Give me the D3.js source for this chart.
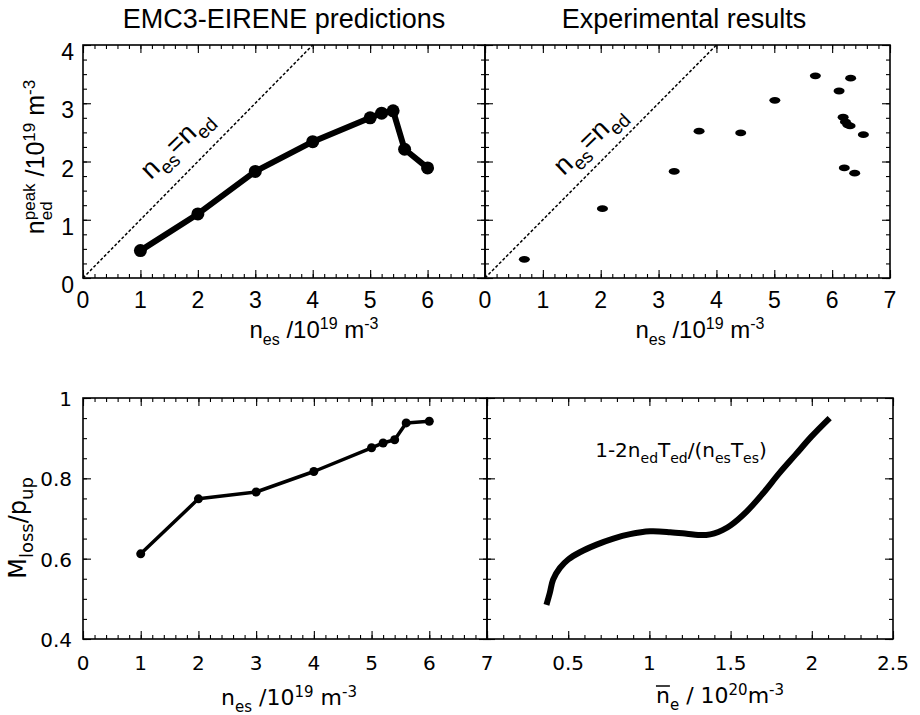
<!DOCTYPE html>
<html>
<head>
<meta charset="utf-8">
<script src="https://cdn.jsdelivr.net/npm/d3@7/dist/d3.min.js"></script>
<style>
  html, body { margin: 0; padding: 0; background: #fff; }
  svg { display: block; }
</style>
</head>
<body>
<svg id="chart" width="920" height="715"></svg>
<script>
// ---------------- DATA ----------------
// Top-left: EMC3-EIRENE predictions
const predNes = [1, 2, 3, 4, 5, 5.2, 5.4, 5.6, 6];
const predNedPeak = [0.47, 1.10, 1.83, 2.34, 2.75, 2.83, 2.87, 2.21, 1.89];
// Top-right: Experimental results
const expNes = [0.68, 2.03, 3.27, 3.70, 4.42, 5.01, 5.71, 6.32, 6.12, 6.19, 6.23, 6.27, 6.31, 6.54, 6.21, 6.39];
const expNedPeak = [0.32, 1.19, 1.83, 2.52, 2.49, 3.05, 3.47, 3.43, 3.21, 2.76, 2.68, 2.63, 2.61, 2.46, 1.89, 1.80];
// Bottom-left: momentum loss
const lossNes = [1, 2, 3, 4, 5, 5.2, 5.4, 5.6, 6];
const lossFrac = [0.612, 0.749, 0.766, 0.817, 0.876, 0.888, 0.896, 0.938, 0.942];
// Bottom-right: 1-2nedTed/(nesTes) vs line-averaged density
const nebar = [0.366, 0.387, 0.407, 0.449, 0.50, 0.572, 0.675, 0.778, 0.881, 1.004, 1.128, 1.230, 1.300, 1.350, 1.400, 1.450, 1.500, 1.600, 1.700, 1.800, 1.900, 2.000, 2.110];
const pressLoss = [0.485, 0.515, 0.548, 0.577, 0.598, 0.616, 0.635, 0.650, 0.661, 0.668, 0.666, 0.662, 0.659, 0.659, 0.663, 0.671, 0.683, 0.718, 0.763, 0.813, 0.859, 0.905, 0.950];
// Identity line n_es = n_ed
const identityX = [0, 4];
// Tick labels
const topXTicksLeft = [0, 1, 2, 3, 4, 5, 6];
const topXTicksRight = [0, 1, 2, 3, 4, 5, 6, 7];
const topYTicks = [0, 1, 2, 3, 4];
const botXTicksLeft = [0, 1, 2, 3, 4, 5, 6, 7];
const botXTicksRight = [0.5, 1, 1.5, 2, 2.5];
const botYTicks = [0.4, 0.6, 0.8, 1];
const titles = ["EMC3-EIRENE predictions", "Experimental results"];

// ---------------- LAYOUT ----------------
const svg = d3.select("#chart");
const TOPFONT = "'Liberation Sans', Arial, Helvetica, sans-serif";
const BOTFONT = "'DejaVu Sans', Verdana, sans-serif";

const P = {
  tl: {x0: 83, x1: 485, y0: 278, y1: 45},
  tr: {x0: 485, x1: 890, y0: 278, y1: 45},
  bl: {x0: 83, x1: 487, y0: 639, y1: 398},
  br: {x0: 487, x1: 893, y0: 639, y1: 398}
};

const sx = {
  tl: d3.scaleLinear().domain([0, 7]).range([P.tl.x0, P.tl.x1]),
  tr: d3.scaleLinear().domain([0, 7]).range([P.tr.x0, P.tr.x1]),
  bl: d3.scaleLinear().domain([0, 7]).range([P.bl.x0, P.bl.x1]),
  br: d3.scaleLinear().domain([0, 2.5]).range([P.br.x0, P.br.x1])
};
const sy = {
  tl: d3.scaleLinear().domain([0, 4]).range([P.tl.y0, P.tl.y1]),
  tr: d3.scaleLinear().domain([0, 4]).range([P.tr.y0, P.tr.y1]),
  bl: d3.scaleLinear().domain([0.4, 1]).range([P.bl.y0, P.bl.y1]),
  br: d3.scaleLinear().domain([0.4, 1]).range([P.br.y0, P.br.y1])
};

// ---------------- HELPERS ----------------
function inwardTicks(key, xMajor, xMinor, yMajor, yMinor) {
  const p = P[key], x = sx[key], y = sy[key];
  const g = svg.append("g").attr("class", "ticks-" + key);
  const mk = (axisFn, scale, vals, len, tr) => {
    const a = axisFn(scale).tickValues(vals).tickSizeInner(-len).tickSizeOuter(0).tickFormat("");
    const gg = g.append("g").attr("transform", tr).call(a);
    gg.select(".domain").remove();
    gg.selectAll("line").attr("stroke", "#000").attr("stroke-width", 1.1);
  };
  mk(d3.axisBottom, x, xMajor, 8, `translate(0,${p.y0})`);
  mk(d3.axisBottom, x, xMinor, 4, `translate(0,${p.y0})`);
  mk(d3.axisTop, x, xMajor, 8, `translate(0,${p.y1})`);
  mk(d3.axisTop, x, xMinor, 4, `translate(0,${p.y1})`);
  mk(d3.axisLeft, y, yMajor, 8, `translate(${p.x0},0)`);
  mk(d3.axisLeft, y, yMinor, 4, `translate(${p.x0},0)`);
  mk(d3.axisRight, y, yMajor, 8, `translate(${p.x1},0)`);
  mk(d3.axisRight, y, yMinor, 4, `translate(${p.x1},0)`);
  svg.append("rect").attr("x", p.x0).attr("y", p.y1)
    .attr("width", p.x1 - p.x0).attr("height", p.y0 - p.y1)
    .attr("fill", "none").attr("stroke", "#000").attr("stroke-width", 1.6);
}

// rich text: parts = [{t, sub, sup, stack}]
function rich(x, y, parts, opt) {
  const fs = opt.size, ss = opt.small;
  const g = svg.append("g").attr("transform", `translate(${x},${y}) rotate(${opt.rotate || 0})`);
  const txt = g.append("text").attr("x", 0).attr("y", 0)
    .attr("font-family", opt.font).attr("font-size", fs)
    .attr("text-anchor", opt.anchor || "middle").attr("fill", "#000");
  let off = 0;
  let prev = null;
  parts.forEach(pt => {
    let target = 0, size = fs;
    if (pt.sub) { target = opt.subShift || 0.30 * fs; size = ss; }
    if (pt.sup) { target = -(opt.supShift || 0.38 * fs); size = ss; }
    const ts = txt.append("tspan").attr("font-size", size).attr("dy", target - off).text(pt.t);
    if (pt.stack && prev) {
      const w = prev.node().getComputedTextLength();
      ts.attr("dx", -w);
    }
    off = target;
    prev = ts;
  });
  return {g, txt};
}

// ---------------- TICKS / FRAMES ----------------
const r = (a, b, s) => d3.range(a, b + 1e-9, s);
inwardTicks("tl", r(0, 7, 1), r(0, 7, 0.2), r(0, 4, 1), r(0, 4, 0.25));
inwardTicks("tr", r(0, 7, 1), r(0, 7, 0.2), r(0, 4, 1), r(0, 4, 0.25));
inwardTicks("bl", r(0, 7, 1), r(0, 7, 0.2), r(0.4, 1, 0.2), r(0.4, 1, 0.05));
inwardTicks("br", r(0, 2.5, 0.5), r(0, 2.5, 0.1), r(0.4, 1, 0.2), r(0.4, 1, 0.05));

// ---------------- TICK LABELS ----------------
function xLabels(key, vals, yBase, font, size) {
  svg.append("g").selectAll("text").data(vals).join("text")
    .attr("x", d => sx[key](d)).attr("y", yBase)
    .attr("text-anchor", "middle").attr("font-family", font).attr("font-size", size)
    .text(d => d3.format("~g")(d));
}
function yLabels(key, vals, xRight, dy, font, size) {
  svg.append("g").selectAll("text").data(vals).join("text")
    .attr("x", xRight).attr("y", d => sy[key](d) + dy)
    .attr("text-anchor", "end").attr("font-family", font).attr("font-size", size)
    .text(d => d3.format("~g")(d));
}
xLabels("tl", topXTicksLeft, 308, TOPFONT, 23);
xLabels("tr", topXTicksRight, 308, TOPFONT, 23);
yLabels("tl", topYTicks, 74, 15, TOPFONT, 23);
xLabels("bl", botXTicksLeft, 670, BOTFONT, 20);
xLabels("br", botXTicksRight, 670, BOTFONT, 20);
yLabels("bl", botYTicks, 72, 8, BOTFONT, 20);

// ---------------- TITLES ----------------
svg.append("text").attr("x", 284).attr("y", 28).attr("text-anchor", "middle")
  .attr("font-family", TOPFONT).attr("font-size", 27).text(titles[0]);
svg.append("text").attr("x", 684).attr("y", 28).attr("text-anchor", "middle")
  .attr("font-family", TOPFONT).attr("font-size", 27).text(titles[1]);

// ---------------- AXIS TITLES ----------------
const nesLabel = [{t: "n"}, {t: "es", sub: true}, {t: " /10"}, {t: "19", sup: true}, {t: " m"}, {t: "-3", sup: true}];
rich(314, 338, nesLabel, {font: TOPFONT, size: 24, small: 16});
rich(700, 338, nesLabel, {font: TOPFONT, size: 24, small: 16});
rich(44, 157, [{t: "n"}, {t: "ed", sub: true}, {t: "peak", sup: true, stack: true}, {t: " /10"}, {t: "19", sup: true}, {t: " m"}, {t: "-3", sup: true}],
  {font: TOPFONT, size: 25, small: 17, rotate: -90});
rich(289, 705, nesLabel, {font: BOTFONT, size: 22, small: 15});
rich(26, 528, [{t: "M"}, {t: "loss", sub: true}, {t: "/p"}, {t: "up", sub: true}],
  {font: BOTFONT, size: 24, small: 18, rotate: -90});
const neLab = rich(720, 703, [{t: "n"}, {t: "e", sub: true}, {t: " / 10"}, {t: "20", sup: true}, {t: "m"}, {t: "-3", sup: true}],
  {font: BOTFONT, size: 22, small: 15});
{
  const node = neLab.txt.node();
  const s = node.getStartPositionOfChar(0), e = node.getEndPositionOfChar(0);
  neLab.g.append("line").attr("x1", s.x).attr("x2", e.x)
    .attr("y1", -17).attr("y2", -17).attr("stroke", "#000").attr("stroke-width", 1.5);
}

// ---------------- MARKS ----------------
// identity dashed lines
["tl", "tr"].forEach(k => {
  svg.append("path")
    .attr("d", d3.line().x(d => sx[k](d)).y(d => sy[k](d))(identityX))
    .attr("fill", "none").attr("stroke", "#000").attr("stroke-width", 1.5)
    .attr("stroke-dasharray", "3,2");
});
rich(182, 150, [{t: "n"}, {t: "es", sub: true}, {t: "=n"}, {t: "ed", sub: true}],
  {font: TOPFONT, size: 27, small: 19, rotate: -44});
rich(595, 146, [{t: "n"}, {t: "es", sub: true}, {t: "=n"}, {t: "ed", sub: true}],
  {font: TOPFONT, size: 27, small: 19, rotate: -44});

// predictions
const predPts = predNes.map((d, i) => [d, predNedPeak[i]]);
svg.append("path")
  .attr("d", d3.line().x(d => sx.tl(d[0])).y(d => sy.tl(d[1]))(predPts))
  .attr("fill", "none").attr("stroke", "#000").attr("stroke-width", 6).attr("stroke-linejoin", "round");
svg.append("g").selectAll("circle").data(predPts).join("circle")
  .attr("cx", d => sx.tl(d[0])).attr("cy", d => sy.tl(d[1])).attr("r", 6.5).attr("fill", "#000");

// experiments
const expPts = expNes.map((d, i) => [d, expNedPeak[i]]);
svg.append("g").selectAll("ellipse").data(expPts).join("ellipse")
  .attr("cx", d => sx.tr(d[0])).attr("cy", d => sy.tr(d[1])).attr("rx", 5.5).attr("ry", 3.4).attr("fill", "#000");

// momentum loss
const lossPts = lossNes.map((d, i) => [d, lossFrac[i]]);
svg.append("path")
  .attr("d", d3.line().x(d => sx.bl(d[0])).y(d => sy.bl(d[1]))(lossPts))
  .attr("fill", "none").attr("stroke", "#000").attr("stroke-width", 3.5).attr("stroke-linejoin", "round");
svg.append("g").selectAll("circle").data(lossPts).join("circle")
  .attr("cx", d => sx.bl(d[0])).attr("cy", d => sy.bl(d[1])).attr("r", 4.5).attr("fill", "#000");

// pressure loss curve
const brPts = nebar.map((d, i) => [d, pressLoss[i]]);
svg.append("path")
  .attr("d", d3.line().curve(d3.curveCatmullRom).x(d => sx.br(d[0])).y(d => sy.br(d[1]))(brPts))
  .attr("fill", "none").attr("stroke", "#000").attr("stroke-width", 6).attr("stroke-linejoin", "round");
rich(681, 457, [{t: "1-2n"}, {t: "ed", sub: true}, {t: "T"}, {t: "ed", sub: true}, {t: "/(n"}, {t: "es", sub: true}, {t: "T"}, {t: "es", sub: true}, {t: ")"}],
  {font: BOTFONT, size: 20, small: 14});
</script>
</body>
</html>
